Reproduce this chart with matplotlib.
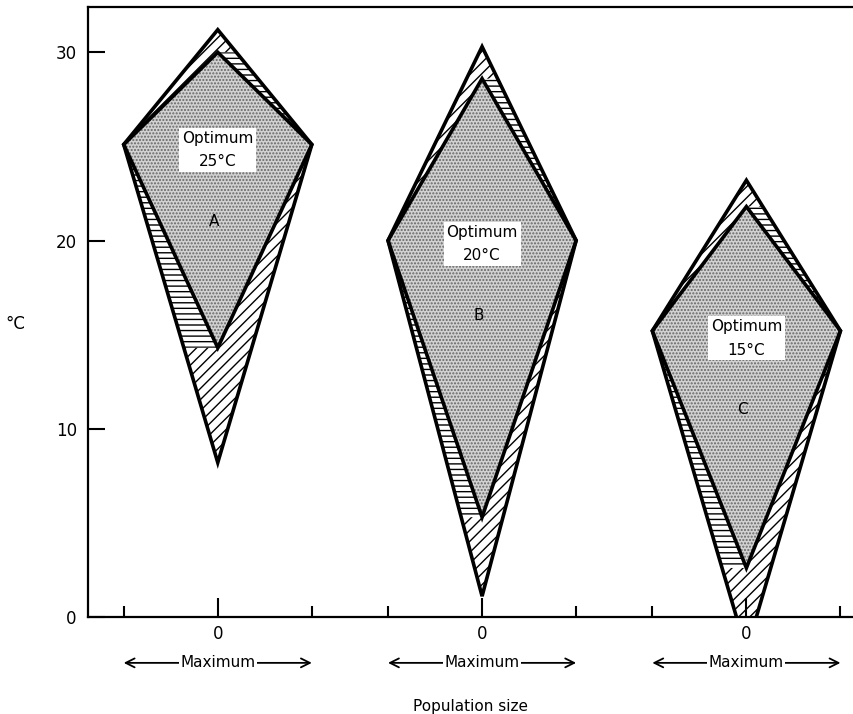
import matplotlib
matplotlib.use('Agg')
import matplotlib.pyplot as plt
from matplotlib.patches import Polygon

plt.rcParams['font.family'] = ['DejaVu Sans']
plt.rcParams['hatch.linewidth'] = 1.0

# three populations, temperatures in degC
GROUPS = ['A', 'B', 'C']
OPTIMUM = [25, 20, 15]
CENTERS = [0.0, 2.81, 5.62]         # x position of the "0" of each population axis
SIDE_TEMP = [25.1, 20.0, 15.2]      # left/right vertices (maximum population)
OUTER_TOP = [31.2, 30.3, 23.2]
INNER_TOP = [30.0, 28.6, 21.8]
INNER_BOTTOM = [14.3, 5.3, 2.6]
OUTER_BOTTOM = [8.2, 1.1, -1.8]
Y_TICKS = [0, 10, 20, 30]

fig = plt.figure(figsize=(8.54, 7.14), dpi=100)
ax = fig.add_axes([0.103, 0.136, 0.896, 0.854])
ax.set_xlim(-1.38, 6.755)
ax.set_ylim(0, 32.4)

for i, c in enumerate(CENTERS):
    side = SIDE_TEMP[i]
    L, R = (c - 1, side), (c + 1, side)
    T, B = (c, OUTER_TOP[i]), (c, OUTER_BOTTOM[i])
    IT, IB = (c, INNER_TOP[i]), (c, INNER_BOTTOM[i])

    # hatched outer band: diagonal everywhere, horizontal strokes on the
    # upper-right and lower-left bands
    ax.add_patch(Polygon([L, T, R, B], closed=True, facecolor='white',
                         edgecolor='black', hatch='///', lw=0, zorder=1))
    xl = c - 1 + (side - IB[1]) / (side - B[1])
    xr = c + (T[1] - IT[1]) / (T[1] - side)
    for pts in ([L, IB, (xl, IB[1])], [IT, (xr, IT[1]), R]):
        ax.add_patch(Polygon(pts, closed=True, facecolor='white', edgecolor='black',
                             hatch='---', lw=0, zorder=1.5))
    ax.add_patch(Polygon([L, T, R, B], closed=True, fill=False,
                         edgecolor='black', lw=2.6, joinstyle='miter', zorder=3))

    inner = [L, IT, R, IB]
    ax.add_patch(Polygon(inner, closed=True, facecolor='#d2d2d2',
                         edgecolor='#666666', hatch='.....', lw=0, zorder=2))
    ax.add_patch(Polygon(inner, closed=True, fill=False,
                         edgecolor='black', lw=2.6, joinstyle='miter', zorder=4))

    ax.text(c, OPTIMUM[i] - 0.2, f'Optimum\n{OPTIMUM[i]}°C', ha='center', va='center',
            fontsize=11, linespacing=1.7, zorder=5,
            bbox=dict(facecolor='white', edgecolor='none', pad=2))
    ax.text(c - 0.04, OPTIMUM[i] - 4.0, GROUPS[i], ha='center', va='center',
            fontsize=11, zorder=5)

    trans = ax.get_xaxis_transform()
    ax.annotate('', xy=(c + 1, -0.0754), xytext=(c - 1, -0.0754),
                xycoords=trans, textcoords=trans, annotation_clip=False,
                arrowprops=dict(arrowstyle='<->', lw=1.3, color='black',
                                shrinkA=0, shrinkB=0, mutation_scale=16))
    ax.text(c, -0.0754, 'Maximum', transform=trans, ha='center', va='center',
            fontsize=11, bbox=dict(facecolor='white', edgecolor='none', pad=1))

ax.set_xticks(CENTERS, labels=['0'] * len(CENTERS))
ax.set_xticks([c + d for c in CENTERS for d in (-1, 1)], minor=True)
ax.tick_params(axis='x', which='major', direction='in', length=14, width=1.5,
               labelsize=12, pad=6)
ax.tick_params(axis='x', which='minor', direction='in', length=8, width=1.5)
ax.set_yticks(Y_TICKS)
ax.tick_params(axis='y', direction='in', length=12, width=1.5, labelsize=12, pad=8)

ax.set_xlabel('Population size', fontsize=11, labelpad=40)
ax.set_ylabel('°C', fontsize=12, rotation=0, va='center')
ax.yaxis.set_label_coords(-0.095, 0.48)

for side in ['left', 'bottom', 'top']:
    ax.spines[side].set_linewidth(1.6)
ax.spines['right'].set_linewidth(0.7)
ax.spines['right'].set_color('#666666')

fig.savefig('out.png', dpi=100, facecolor='white')
